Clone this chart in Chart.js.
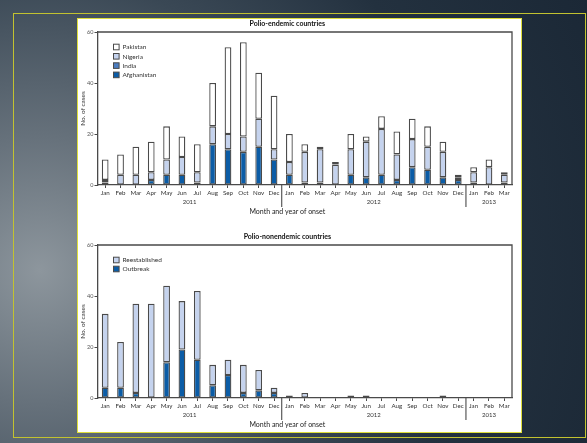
<!DOCTYPE html>
<html>
<head>
<meta charset="utf-8">
<script src="https://cdn.jsdelivr.net/npm/chart.js@4.4.0/dist/chart.umd.min.js"></script>
<style>
  html, body { margin: 0; padding: 0; }
  body {
    width: 587px; height: 443px; overflow: hidden; position: relative;
    background: radial-gradient(circle at 40px 270px, #8d969d 0%, #66717b 22%, #3a4855 48%, #23313f 70%, #1b2836 100%);
  }
  #frame {
    position: absolute; left: 13px; top: 13px; width: 573px; height: 425px;
    box-sizing: border-box; border: 1px solid #c2c230;
  }
  #panel {
    position: absolute; left: 77px; top: 18px; width: 445px; height: 415px;
    box-sizing: border-box; border: 1px solid #dede3a; background: #ffffff;
  }
  canvas { position: absolute; left: 78px; }
  #endemic { top: 19px; }
  #nonendemic { top: 225px; }
</style>
</head>
<body>
<div id="frame"></div>
<div id="panel"></div>
<canvas id="endemic" width="440" height="206"></canvas>
<canvas id="nonendemic" width="440" height="206"></canvas>
<script>
// Month of onset, Jan 2011 - Mar 2013
const months = ['Jan','Feb','Mar','Apr','May','Jun','Jul','Aug','Sep','Oct','Nov','Dec',
                'Jan','Feb','Mar','Apr','May','Jun','Jul','Aug','Sep','Oct','Nov','Dec',
                'Jan','Feb','Mar'];
const monthYears = [2011,2011,2011,2011,2011,2011,2011,2011,2011,2011,2011,2011,
                    2012,2012,2012,2012,2012,2012,2012,2012,2012,2012,2012,2012,
                    2013,2013,2013];
const yTicks = [0, 20, 40, 60];

// Polio-endemic countries (cases per month)
const afghanistan = [1,0,0,2,4,4,1,16,14,13,15,10, 4,1,1,0,4,3,4,2,7,6,3,2, 1,0,1];
const india       = [1,0,0,0,0,0,0,0,0,0,0,0,      0,0,0,0,0,0,0,0,0,0,0,0, 0,0,0];
const nigeria     = [0,4,4,3,6,7,4,7,6,6,11,4,     5,12,13,8,10,14,18,10,11,9,10,1, 4,7,3];
const pakistan    = [8,8,11,12,13,8,11,17,34,37,18,21, 11,3,1,1,6,2,5,9,8,8,4,1, 2,3,1];

// Polio-nonendemic countries (cases per month)
const outbreak      = [4,4,2,0,14,19,15,5,9,2,3,2, 0,0,0,0,0,0,0,0,0,0,1,0, 0,0,0];
const reestablished = [29,18,35,37,30,19,27,8,6,11,8,2, 1,2,0,0,1,1,0,0,0,0,0,0, 0,0,0];

const DARK = '#0b5ca6', MID = '#4b7dc0', LIGHT = '#c5d3ee', WHITE = '#ffffff';
const EDGE = '#4a4a4a';
const FONT = 'Lato, "Liberation Sans", sans-serif';

Chart.defaults.font.family = FONT;
Chart.defaults.color = '#333';

// Frame, year grouping, titles and in-plot legend
const decor = {
  id: 'decor',
  afterDraw(chart, args, opts) {
    const { ctx, chartArea: a, scales: { x } } = chart;
    ctx.save();
    ctx.strokeStyle = EDGE;
    ctx.lineWidth = 1.3;
    ctx.beginPath();
    ctx.moveTo(a.left, a.top);
    ctx.lineTo(a.right, a.top);
    ctx.lineTo(a.right, a.bottom);
    ctx.stroke();

    // year groups: separators between years and centred year labels
    const groups = [];
    monthYears.forEach((yr, i) => {
      const g = groups[groups.length - 1];
      if (g && g.year === yr) g.end = i; else groups.push({ year: yr, start: i, end: i });
    });
    ctx.fillStyle = '#333';
    ctx.font = '6px ' + FONT;
    ctx.textAlign = 'center';
    ctx.textBaseline = 'middle';
    groups.forEach((g, k) => {
      const cx = (x.getPixelForValue(g.start) + x.getPixelForValue(g.end)) / 2;
      ctx.fillText(String(g.year), cx, a.bottom + 17);
      if (k > 0) {
        const sx = (x.getPixelForValue(g.start - 1) + x.getPixelForValue(g.start)) / 2;
        ctx.beginPath();
        ctx.lineWidth = 1.1;
        ctx.moveTo(sx, a.bottom);
        ctx.lineTo(sx, a.bottom + 22);
        ctx.stroke();
      }
    });

    const midX = a.left + (a.right - a.left) * 0.458;
    ctx.font = '7px ' + FONT;
    ctx.fillStyle = '#222';
    ctx.fillText('Month and year of onset', midX, a.bottom + 27);

    ctx.font = 'bold 7px ' + FONT;
    ctx.fillStyle = '#111';
    ctx.fillText(opts.title, midX, a.top - 8);

    ctx.save();
    ctx.translate(4.8, (a.top + a.bottom) / 2);
    ctx.rotate(-Math.PI / 2);
    ctx.font = '6.5px ' + FONT;
    ctx.fillStyle = '#333';
    ctx.fillText('No. of cases', 0, 0);
    ctx.restore();

    // legend, top series first
    const ds = chart.data.datasets.slice().reverse();
    ctx.font = '6.5px ' + FONT;
    ctx.textAlign = 'left';
    ds.forEach((d, i) => {
      const ly = a.top + 15 + i * opts.rowGap;
      ctx.fillStyle = d.backgroundColor;
      ctx.fillRect(a.left + 16, ly - 2.8, 5.6, 5.6);
      ctx.lineWidth = 1;
      ctx.strokeStyle = EDGE;
      ctx.strokeRect(a.left + 16, ly - 2.8, 5.6, 5.6);
      ctx.fillStyle = '#333';
      ctx.fillText(d.label, a.left + 25, ly + 0.3);
    });
    ctx.restore();
  }
};

// months with no cases get no segment at all
function barSet(label, values, color) {
  return {
    label, data: values.map(v => (v === 0 ? null : v)), backgroundColor: color,
    borderColor: EDGE, borderWidth: 1.3, borderSkipped: false,
    barPercentage: 0.44, categoryPercentage: 1.0
  };
}

function makeChart(id, datasets, title, xHeight, rowGap, topPad) {
  return new Chart(document.getElementById(id), {
    type: 'bar',
    data: { labels: months, datasets },
    options: {
      responsive: false,
      animation: false,
      devicePixelRatio: 1,
      layout: { padding: { top: topPad, right: 6, left: 0, bottom: 0 } },
      plugins: {
        legend: { display: false },
        tooltip: { enabled: false },
        title: { display: false },
        decor: { title, rowGap }
      },
      scales: {
        x: {
          stacked: true,
          offset: true,
          afterFit(s) { s.height = xHeight; },
          grid: { offset: false, drawOnChartArea: false, tickLength: 3, tickColor: EDGE, tickWidth: 1 },
          border: { color: EDGE, width: 1.3 },
          ticks: { autoSkip: false, maxRotation: 0, padding: 1, font: { size: 6.2 }, color: '#333' }
        },
        y: {
          stacked: true,
          min: 0, max: 60,
          afterFit(s) { s.width = 19.5; },
          afterBuildTicks(s) { s.ticks = yTicks.map(v => ({ value: v })); },
          grid: { drawOnChartArea: false, tickLength: 3, tickColor: EDGE, tickWidth: 1 },
          border: { color: EDGE, width: 1.3 },
          ticks: { padding: 1, font: { size: 5.5 }, color: '#555' }
        }
      }
    },
    plugins: [decor]
  });
}

makeChart('endemic', [
  barSet('Afghanistan', afghanistan, DARK),
  barSet('India', india, MID),
  barSet('Nigeria', nigeria, LIGHT),
  barSet('Pakistan', pakistan, WHITE)
], 'Polio-endemic countries', 40, 9.3, 13);

makeChart('nonendemic', [
  barSet('Outbreak', outbreak, DARK),
  barSet('Reestablished', reestablished, LIGHT)
], 'Polio-nonendemic countries', 33, 9, 20);
</script>
</body>
</html>
